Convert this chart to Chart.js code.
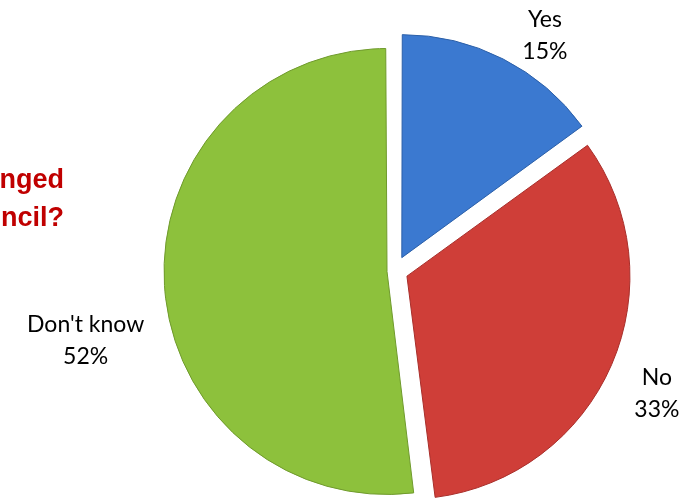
<!DOCTYPE html>
<html>
<head>
<meta charset="utf-8">
<script src="https://cdn.jsdelivr.net/npm/chart.js@4/dist/chart.umd.min.js"></script>
<style>
  html, body { margin: 0; padding: 0; background: #fff; }
  #wrap { position: relative; width: 698px; height: 500px; }
</style>
</head>
<body>
<div id="wrap"><canvas id="pieChart" width="698" height="500"></canvas></div>
<script>
// datos del gráfico
const categorias = ["Yes", "No", "Don't know"];
const porcentajes = [15, 33, 52];
const colores = ["#3b79d0", "#cf3e38", "#8dc13c"];
const bordes = ["#2b5fa8", "#a82e2a", "#6f9a2c"];
const tituloCortado = ["nged", "ncil?"];

// empuje de cada porción hacia afuera
const separacion = [60, 52, 32];
const radioBase = 223;

// etiquetas fuera del pastel: distancia al centro y ángulo (grados desde arriba)
const posEtiquetas = [
  { r: 279, a: 32.5 },
  { r: 289, a: 115 },
  { r: 317, a: 257.4 }
];

// Chart.js agranda la porción separada; la dejamos con el mismo radio
const radioPlugin = {
  id: "radioIgual",
  beforeDatasetsDraw(chart) {
    chart.getDatasetMeta(0).data.forEach((arc, i) => {
      const circ = arc.endAngle - arc.startAngle;
      const fix = 1 - Math.sin(Math.min(Math.PI, circ));
      arc.outerRadius = radioBase - (separacion[i] / 4) * fix;
    });
  }
};

const etiquetasPlugin = {
  id: "etiquetas",
  afterDraw(chart) {
    const ctx = chart.ctx;
    const arcs = chart.getDatasetMeta(0).data;
    ctx.save();
    ctx.fillStyle = "#000";
    ctx.font = "23px Lato, 'Open Sans', sans-serif";
    ctx.textAlign = "center";
    ctx.textBaseline = "middle";
    arcs.forEach((arc, i) => {
      const { x, y } = arc.getProps(["x", "y"], true);
      const ang = (posEtiquetas[i].a - 90) * Math.PI / 180;
      const lx = x + Math.cos(ang) * posEtiquetas[i].r;
      const ly = y + Math.sin(ang) * posEtiquetas[i].r;
      ctx.fillText(categorias[i], lx, ly - 16);
      ctx.fillText(porcentajes[i] + "%", lx, ly + 16);
    });

    // título recortado a la izquierda
    ctx.fillStyle = "#c00000";
    ctx.font = "bold 27px 'Liberation Sans', Arial, sans-serif";
    ctx.textAlign = "right";
    ctx.textBaseline = "alphabetic";
    ctx.fillText(tituloCortado[0], 64, 188);
    ctx.fillText(tituloCortado[1], 64, 226);
    ctx.restore();
  }
};

function relleno(context) {
  const i = context.dataIndex;
  const chart = context.chart;
  const arc = chart.getDatasetMeta(0).data[i];
  if (!arc || !arc.x) return colores[i];
  const g = chart.ctx.createRadialGradient(arc.x - 60, arc.y - 80, 20, arc.x, arc.y, radioBase + 20);
  g.addColorStop(0, colores[i]);
  g.addColorStop(0.85, colores[i]);
  g.addColorStop(1, bordes[i]);
  return g;
}

new Chart(document.getElementById("pieChart"), {
  type: "pie",
  data: {
    labels: categorias,
    datasets: [{
      data: porcentajes,
      backgroundColor: relleno,
      borderColor: bordes,
      borderWidth: 1,
      offset: separacion
    }]
  },
  options: {
    responsive: false,
    animation: false,
    radius: radioBase,
    layout: { padding: { left: 92, right: 0, top: 42, bottom: 0 } },
    plugins: {
      legend: { display: false },
      tooltip: { enabled: false },
      title: { display: false }
    }
  },
  plugins: [radioPlugin, etiquetasPlugin]
});
</script>
</body>
</html>
